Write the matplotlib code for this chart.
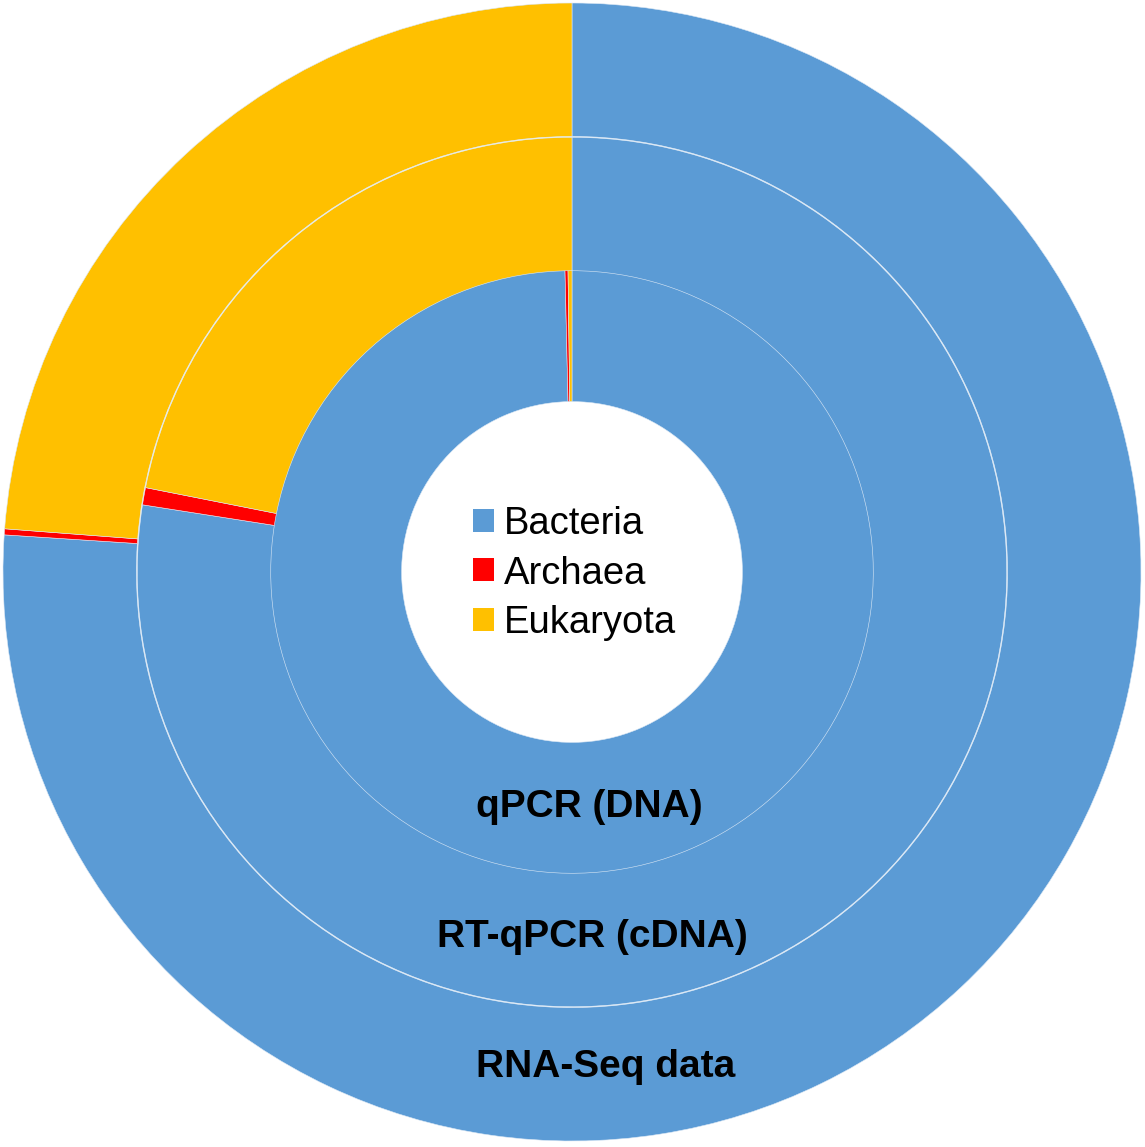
import matplotlib
matplotlib.use("Agg")
import matplotlib.pyplot as plt

plt.rcParams['font.family'] = ['Liberation Sans', 'DejaVu Sans']

# Domain order: Bacteria, Archaea, Eukaryota (fractions)
domains = ["Bacteria", "Archaea", "Eukaryota"]
colors = ["#5B9BD5", "#FF0000", "#FFC000"]

qpcr_dna = [0.9963, 0.0016, 0.0021]
rtqpcr_cdna = [0.7747, 0.0064, 0.2189]
rnaseq = [0.7604, 0.0017, 0.2379]

ring_labels = ["qPCR (DNA)", "RT-qPCR (cDNA)", "RNA-Seq data"]

W, H = 1145, 1147
R = 569.0          # outer radius in pixels
cx, cy = 572, 572  # centre in pixels (from top-left)

fig = plt.figure(figsize=(W / 100, H / 100), dpi=100)
ax = fig.add_axes([0, 0, 1, 1])

width = 0.2345
radii = [0.534, 0.764, 1.0]
wedges = None
for vals, r in zip([qpcr_dna, rtqpcr_cdna, rnaseq], radii):
    w, _ = ax.pie(vals, radius=r, colors=colors, startangle=90, counterclock=False,
                  wedgeprops=dict(width=width, edgecolor="#dbe8f5", linewidth=0.4))
    if wedges is None:
        wedges = w

ax.set_aspect("auto")
ax.set_xlim(-cx / R, (W - cx) / R)
ax.set_ylim(-(H - cy) / R, cy / R)
ax.axis("off")

leg = ax.legend(wedges, domains, loc="center", bbox_to_anchor=(0.502, 0.5),
                frameon=False, fontsize=27.5, handlelength=0.55, handleheight=0.55,
                handletextpad=0.25, labelspacing=0.36, borderpad=0)
for h in leg.legend_handles:
    h.set_edgecolor("none")

# ring label positions (pixels: centre x, baseline y)
label_px = [(589, 817), (592, 947), (606, 1077)]
for txt, (px, py) in zip(ring_labels, label_px):
    ax.text((px - cx) / R, (cy - py) / R, txt, ha="center", va="baseline",
            fontsize=28, fontweight="bold", color="black")

fig.savefig("out.png", dpi=100)
